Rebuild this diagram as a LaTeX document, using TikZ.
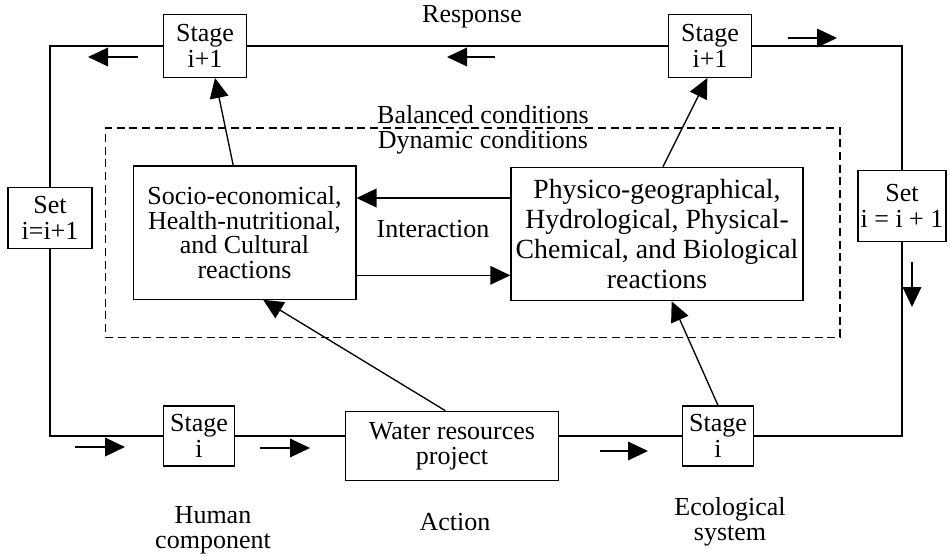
\documentclass[tikz,border=0pt]{standalone}
\usepackage{fontspec}
\setmainfont{Liberation Serif}
\usetikzlibrary{arrows.meta, positioning}
\tikzset{
  base/.style={draw, line width=1pt, align=center, inner sep=1pt,
               font=\fontsize{19.5}{19}\selectfont},
  stagebox/.style = {base, minimum width=62pt, minimum height=47pt},
  lowstage/.style = {base, minimum width=53pt, minimum height=45pt},
  setbox/.style   = {base, minimum width=63pt, minimum height=46pt},
  reactbox/.style = {base, minimum height=100pt, font=\fontsize{19.5}{18.4}\selectfont},
  projbox/.style  = {base, minimum width=160pt, minimum height=52pt},
  dashbox/.style  = {draw, line width=1pt, dash pattern=on 6pt off 3.5pt,
                     minimum width=551pt, minimum height=157pt},
  line/.style     = {line width=1pt},
  arr/.style      = {-{Triangle[length=15pt, width=14pt]}, line width=1pt},
  flow/.style     = {-{Triangle[length=15pt, width=14pt]}, line width=1pt},
}
\begin{document}
\begin{tikzpicture}[x=0.75pt, y=-0.75pt,
  lbl/.style={align=center, font=\fontsize{19.5}{19}\selectfont, inner sep=0pt},
]
  \useasboundingbox (0,0) rectangle (950,557);

  % response loop
  \node[stagebox] (stTL) at (205,46) {Stage\\i+1};
  \node[stagebox] (stTR) at (710,46) {Stage\\i+1};
  \node[setbox] (setL) at (50,218) {Set\\i=i+1};
  \node[setbox, minimum width=66pt, minimum height=53pt] (setR) at (902,206) {Set\\i = i + 1};

  % action row
  \node[lowstage] (stBL) at (199,436) {Stage\\i};
  \node[projbox] (proj) at (452,446) {Water resources\\project};
  \node[lowstage] (stBR) at (718,436) {Stage\\i};

  % conditions
  \node[dashbox] (cond) at (472.5,232.5) {};
  \node[lbl] (bal) at (483,115) {Balanced conditions};
  \node[lbl] (dyn) at (483,142) {Dynamic conditions};
  \node[reactbox, minimum width=167pt] (human) at (244.5,232.5)
    {Socio-economical,\\Health-nutritional,\\and Cultural\\reactions};
  \node[reactbox, minimum width=219pt, font=\fontsize{20.8}{22.5}\selectfont] (eco) at (657,234)
    {Physico-geographical,\\Hydrological, Physical-\\Chemical, and Biological\\reactions};
  \node[lbl] (inter) at (433,229) {Interaction};

  % labels
  \node[lbl] (resp) at (472,17) {Response};
  \node[lbl] (hum) at (213,530) {Human\\component};
  \node[lbl] (act) at (455,522) {Action};
  \node[lbl] (ecs) at (730,522) {Ecological\\system};

  % loop lines
  \draw[line] (setL.north) |- (stTL.west);
  \draw[line] (stTL.east) -- (stTR.west);
  \draw[line] (stTR.east) -| (setR.north);
  \draw[line] (setR.south) |- (stBR.east);
  \draw[line] (stBR.west) -- (stBR.west -| proj.east);
  \draw[line] (stBL.east) -- (stBL.east -| proj.west);
  \draw[line] (setL.south) |- (stBL.west);

  % arrows
  \draw[arr] ([yshift=27pt]eco.west) -- ([yshift=27pt]eco.west -| human.east);
  \draw[arr] ([yshift=-31pt]eco.west -| human.east) -- ([yshift=-31pt]eco.west);
  \draw[arr] ([xshift=-8.5pt]human.north) -- ([xshift=7.5pt]stTL.south);
  \draw[arr] ([xshift=4.5pt]eco.north) -- ([xshift=-2pt]stTR.south);
  \draw[arr] ([xshift=-5pt]proj.north) -- ([xshift=14pt]human.south);
  \draw[arr] (stBR.north) -- ([xshift=11pt]eco.south);

  % direction marks
  \foreach \xa/\ya/\xb/\yb in {138/57/88/57, 495/57/447/57, 788/38/837/38,
      912/262/912/307, 75/447/125/447, 260/448/310/448, 600/451/648/451}
    \draw[flow] (\xa,\ya) -- (\xb,\yb);
\end{tikzpicture}
\end{document}
